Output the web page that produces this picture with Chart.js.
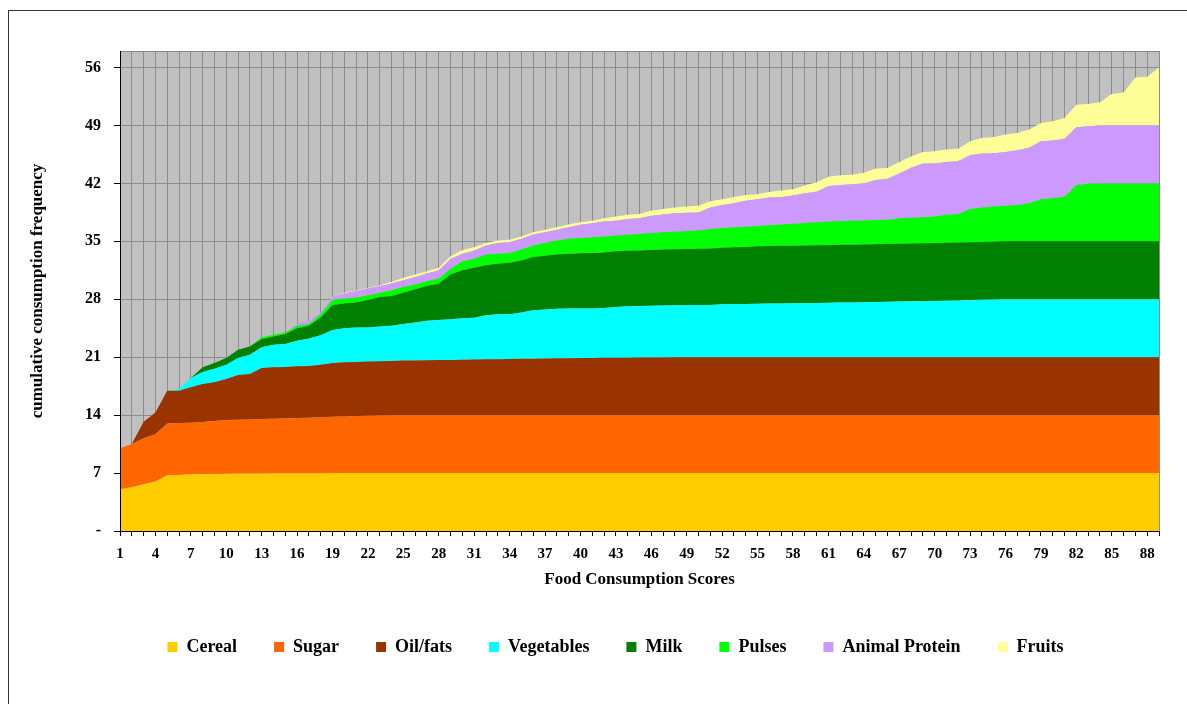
<!DOCTYPE html>
<html>
<head>
<meta charset="utf-8">
<title>Cumulative consumption frequency</title>
<script src="https://cdn.jsdelivr.net/npm/chart.js@4/dist/chart.umd.min.js"></script>
<style>
  html, body { margin: 0; padding: 0; background: #fff; overflow: hidden; }
  #frame { position: absolute; left: 8px; top: 10px; width: 1200px; height: 720px; border: 1px solid #333; }
  #wrap { position: absolute; left: 0; top: 0; width: 1187px; height: 704px; }
</style>
</head>
<body>
<div id="frame"></div>
<div id="wrap"><canvas id="myChart" width="1187" height="704"></canvas></div>
<script>
// food consumption score categories 1..89
const scores = Array.from({ length: 89 }, (_, i) => String(i + 1));

// cumulative (stacked) level of each food group
const cereal = [
  5.05, 5.3, 5.65, 5.97, 6.74, 6.78, 6.85, 6.88, 6.9, 6.92,
  6.94, 6.95, 6.96, 6.97, 6.98, 6.98, 6.99, 6.99, 7, 7,
  7, 7, 7, 7, 7, 7, 7, 7, 7, 7,
  7, 7, 7, 7, 7, 7, 7, 7, 7, 7,
  7, 7, 7, 7, 7, 7, 7, 7, 7, 7,
  7, 7, 7, 7, 7, 7, 7, 7, 7, 7,
  7, 7, 7, 7, 7, 7, 7, 7, 7, 7,
  7, 7, 7, 7, 7, 7, 7, 7, 7, 7,
  7, 7, 7, 7, 7, 7, 7, 7, 7
];
const sugar = [
  10.0, 10.5, 11.2, 11.7, 13.0, 13.04, 13.08, 13.16, 13.3, 13.4,
  13.44, 13.48, 13.52, 13.56, 13.6, 13.65, 13.69, 13.73, 13.8, 13.85,
  13.9, 13.93, 13.97, 14, 14, 14, 14, 14, 14, 14,
  14, 14, 14, 14, 14, 14, 14, 14, 14, 14,
  14, 14, 14, 14, 14, 14, 14, 14, 14, 14,
  14, 14, 14, 14, 14, 14, 14, 14, 14, 14,
  14, 14, 14, 14, 14, 14, 14, 14, 14, 14,
  14, 14, 14, 14, 14, 14, 14, 14, 14, 14,
  14, 14, 14, 14, 14, 14, 14, 14, 14
];
const oilFats = [
  10.0, 10.5, 13.2, 14.33, 16.95, 16.95, 17.36, 17.76, 17.97, 18.37,
  18.85, 18.97, 19.7, 19.78, 19.82, 19.9, 19.94, 20.1, 20.3, 20.39,
  20.43, 20.47, 20.5, 20.55, 20.6, 20.6, 20.63, 20.65, 20.67, 20.7,
  20.72, 20.74, 20.76, 20.78, 20.8, 20.82, 20.84, 20.86, 20.88, 20.9,
  20.91, 20.92, 20.93, 20.94, 20.95, 20.96, 20.97, 20.98, 20.99, 21,
  21, 21, 21, 21, 21, 21, 21, 21, 21, 21,
  21, 21, 21, 21, 21, 21, 21, 21, 21, 21,
  21, 21, 21, 21, 21, 21, 21, 21, 21, 21,
  21, 21, 21, 21, 21, 21, 21, 21, 21
];
const vegetables = [
  10.0, 10.5, 13.2, 14.33, 16.95, 17.15, 18.5, 19.2, 19.6, 20.1,
  20.9, 21.3, 22.2, 22.5, 22.6, 23.0, 23.25, 23.65, 24.3, 24.5,
  24.6, 24.6, 24.7, 24.8, 25.0, 25.2, 25.4, 25.5, 25.6, 25.72,
  25.78, 26.07, 26.2, 26.2, 26.4, 26.67, 26.75, 26.87, 26.88, 26.9,
  26.9, 26.95, 27.07, 27.15, 27.2, 27.23, 27.24, 27.27, 27.28, 27.3,
  27.32, 27.4, 27.43, 27.44, 27.47, 27.48, 27.5, 27.52, 27.55, 27.56,
  27.58, 27.6, 27.62, 27.65, 27.68, 27.7, 27.72, 27.75, 27.77, 27.8,
  27.83, 27.86, 27.9, 27.93, 27.96, 28, 28, 28, 28, 28,
  28, 28, 28, 28, 28, 28, 28, 28, 28
];
const milk = [
  10.0, 10.5, 13.2, 14.33, 16.95, 17.15, 18.5, 19.8, 20.3, 20.9,
  21.9, 22.3, 23.2, 23.5, 23.8, 24.5, 24.8, 25.8, 27.3, 27.5,
  27.6, 27.9, 28.26, 28.4, 28.8, 29.2, 29.6, 29.9, 31.0, 31.5,
  31.8, 32.1, 32.3, 32.4, 32.7, 33.1, 33.27, 33.4, 33.5, 33.55,
  33.6, 33.65, 33.8, 33.87, 33.9, 33.95, 34.0, 34.03, 34.07, 34.1,
  34.15, 34.23, 34.3, 34.33, 34.4, 34.43, 34.47, 34.48, 34.5, 34.52,
  34.55, 34.58, 34.6, 34.63, 34.66, 34.7, 34.72, 34.75, 34.78, 34.8,
  34.83, 34.86, 34.9, 34.93, 34.96, 35, 35, 35, 35, 35,
  35, 35, 35, 35, 35, 35, 35, 35, 35
];
const pulses = [
  10.0, 10.5, 13.2, 14.33, 16.95, 17.15, 18.5, 19.8, 20.3, 20.9,
  21.9, 22.3, 23.4, 23.7, 24.0, 24.8, 25.0, 26.2, 27.9, 28.1,
  28.2, 28.5, 28.8, 29.1, 29.5, 29.8, 30.2, 30.5, 31.7, 32.6,
  32.9, 33.4, 33.5, 33.6, 34.0, 34.5, 34.8, 35.1, 35.3, 35.4,
  35.5, 35.6, 35.7, 35.8, 35.9, 36.0, 36.1, 36.16, 36.24, 36.3,
  36.5, 36.6, 36.7, 36.77, 36.85, 36.93, 37.05, 37.13, 37.22, 37.3,
  37.4, 37.45, 37.5, 37.53, 37.57, 37.6, 37.8, 37.85, 37.9, 38.0,
  38.2, 38.3, 38.9, 39.1, 39.2, 39.3, 39.4, 39.6, 40.1, 40.2,
  40.4, 41.8, 41.95, 42, 42, 42, 42, 42, 42
];
const animalProtein = [
  10.0, 10.5, 13.2, 14.33, 16.95, 17.15, 18.5, 19.8, 20.3, 20.9,
  21.9, 22.3, 23.4, 23.7, 24.0, 25.1, 25.4, 26.4, 28.3, 28.7,
  29.0, 29.3, 29.6, 29.9, 30.3, 30.7, 31.1, 31.5, 32.9, 33.5,
  33.9, 34.5, 34.8, 34.9, 35.3, 35.84, 36.1, 36.4, 36.7, 37.0,
  37.2, 37.4, 37.5, 37.7, 37.8, 38.1, 38.25, 38.4, 38.45, 38.5,
  39.1, 39.4, 39.6, 39.9, 40.1, 40.3, 40.35, 40.55, 40.8, 41.0,
  41.7, 41.8, 41.9, 42.0, 42.4, 42.55, 43.2, 43.9, 44.4, 44.4,
  44.6, 44.7, 45.4, 45.6, 45.65, 45.8, 46.0, 46.3, 47.1, 47.2,
  47.4, 48.8, 48.9, 49, 49, 49, 49, 49, 49
];
const fruits = [
  10.0, 10.5, 13.2, 14.33, 16.95, 17.15, 18.5, 19.8, 20.3, 20.9,
  21.9, 22.3, 23.4, 23.7, 24.0, 25.1, 25.4, 26.4, 28.35, 28.8,
  29.05, 29.35, 29.7, 30.1, 30.6, 31.0, 31.4, 31.8, 33.2, 33.95,
  34.3, 34.8, 35.1, 35.2, 35.6, 36.1, 36.4, 36.7, 37.05, 37.3,
  37.5, 37.8, 38.0, 38.2, 38.3, 38.7, 38.9, 39.1, 39.2, 39.3,
  39.85, 40.1, 40.35, 40.6, 40.7, 40.95, 41.15, 41.3, 41.75, 42.15,
  42.8, 43.0, 43.05, 43.3, 43.8, 43.85, 44.6, 45.25, 45.8, 45.9,
  46.1, 46.2, 47.1, 47.5, 47.6, 47.9, 48.1, 48.5, 49.3, 49.5,
  49.9, 51.5, 51.6, 51.8, 52.8, 53.0, 54.8, 54.9, 56
];

const yTicks = [0, 7, 14, 21, 28, 35, 42, 49, 56];

const font = "'Liberation Serif', 'Times New Roman', serif";

function area(label, data, color, fill) {
  return {
    label: label,
    data: data,
    backgroundColor: color,
    borderColor: "rgba(0,0,0,0)",
    borderWidth: 0,
    pointRadius: 0,
    tension: 0,
    fill: fill,
  };
}

// grey plot area + its grey top/right edges
const plotFrame = {
  id: "plotFrame",
  beforeDraw(chart) {
    const { ctx, chartArea: a } = chart;
    ctx.save();
    ctx.fillStyle = "#c0c0c0";
    ctx.fillRect(a.left, a.top, a.right - a.left, a.bottom - a.top);
    ctx.restore();
  },
  afterDatasetsDraw(chart) {
    const { ctx, chartArea: a } = chart;
    ctx.save();
    ctx.strokeStyle = "#8c8c8c";
    ctx.lineWidth = 1;
    ctx.beginPath();
    ctx.moveTo(a.left, a.top + 0.5);
    ctx.lineTo(a.right + 0.5, a.top + 0.5);
    ctx.lineTo(a.right + 0.5, a.bottom);
    ctx.stroke();
    ctx.restore();
  },
};

// the legend row sits a little left of the plot centre
const legendShift = {
  id: "legendShift",
  afterLayout(chart) {
    chart.legend.left -= 24;
    chart.legend.right -= 24;
  },
};

new Chart(document.getElementById("myChart"), {
  type: "line",
  data: {
    labels: scores,
    datasets: [
      area("Cereal", cereal, "#ffcc00", "origin"),
      area("Sugar", sugar, "#ff6600", "-1"),
      area("Oil/fats", oilFats, "#993300", "-1"),
      area("Vegetables", vegetables, "#00ffff", "-1"),
      area("Milk", milk, "#008000", "-1"),
      area("Pulses", pulses, "#00ff00", "-1"),
      area("Animal Protein", animalProtein, "#cc99ff", "-1"),
      area("Fruits", fruits, "#ffff99", "-1"),
    ],
  },
  options: {
    responsive: false,
    animation: false,
    devicePixelRatio: 1,
    layout: { padding: { left: 0, right: 28, top: 51, bottom: 38 } },
    plugins: {
      tooltip: { enabled: false },
      legend: {
        position: "bottom",
        fullSize: false,
        labels: {
          boxWidth: 10,
          boxHeight: 10,
          padding: 37,
          color: "#000",
          font: { family: font, size: 18, weight: "bold" },
        },
      },
    },
    scales: {
      x: {
        afterFit: (scale) => { scale.height = 70; },
        grid: { color: "#8c8c8c", tickColor: "#000", tickLength: 5, lineWidth: 1 },
        border: { color: "#000", width: 1, z: 1 },
        ticks: {
          autoSkip: false,
          maxRotation: 0,
          padding: 9,
          color: "#000",
          font: { family: font, size: 15, weight: "bold" },
          callback: function (value, index) {
            return index % 3 === 0 ? this.getLabelForValue(value) : "";
          },
        },
        title: {
          display: true,
          text: "Food Consumption Scores",
          color: "#000",
          padding: { top: 0, bottom: 11 },
          font: { family: font, size: 17, weight: "bold" },
        },
      },
      y: {
        min: 0,
        max: 58,
        afterFit: (scale) => { scale.width = 120; },
        afterBuildTicks: (scale) => {
          scale.ticks = yTicks.map((v) => ({ value: v }));
        },
        grid: { color: "#8c8c8c", tickColor: "#000", tickLength: 6, lineWidth: 1 },
        border: { color: "#000", width: 1, z: 1 },
        ticks: {
          padding: 13,
          color: "#000",
          font: { family: font, size: 16, weight: "bold" },
          callback: (v) => (v === 0 ? "-" : v),
        },
        title: {
          display: true,
          text: "cumulative consumption frequency",
          color: "#000",
          padding: { top: 27, bottom: 0 },
          font: { family: font, size: 17, weight: "bold" },
        },
      },
    },
  },
  plugins: [plotFrame, legendShift],
});
</script>
</body>
</html>
